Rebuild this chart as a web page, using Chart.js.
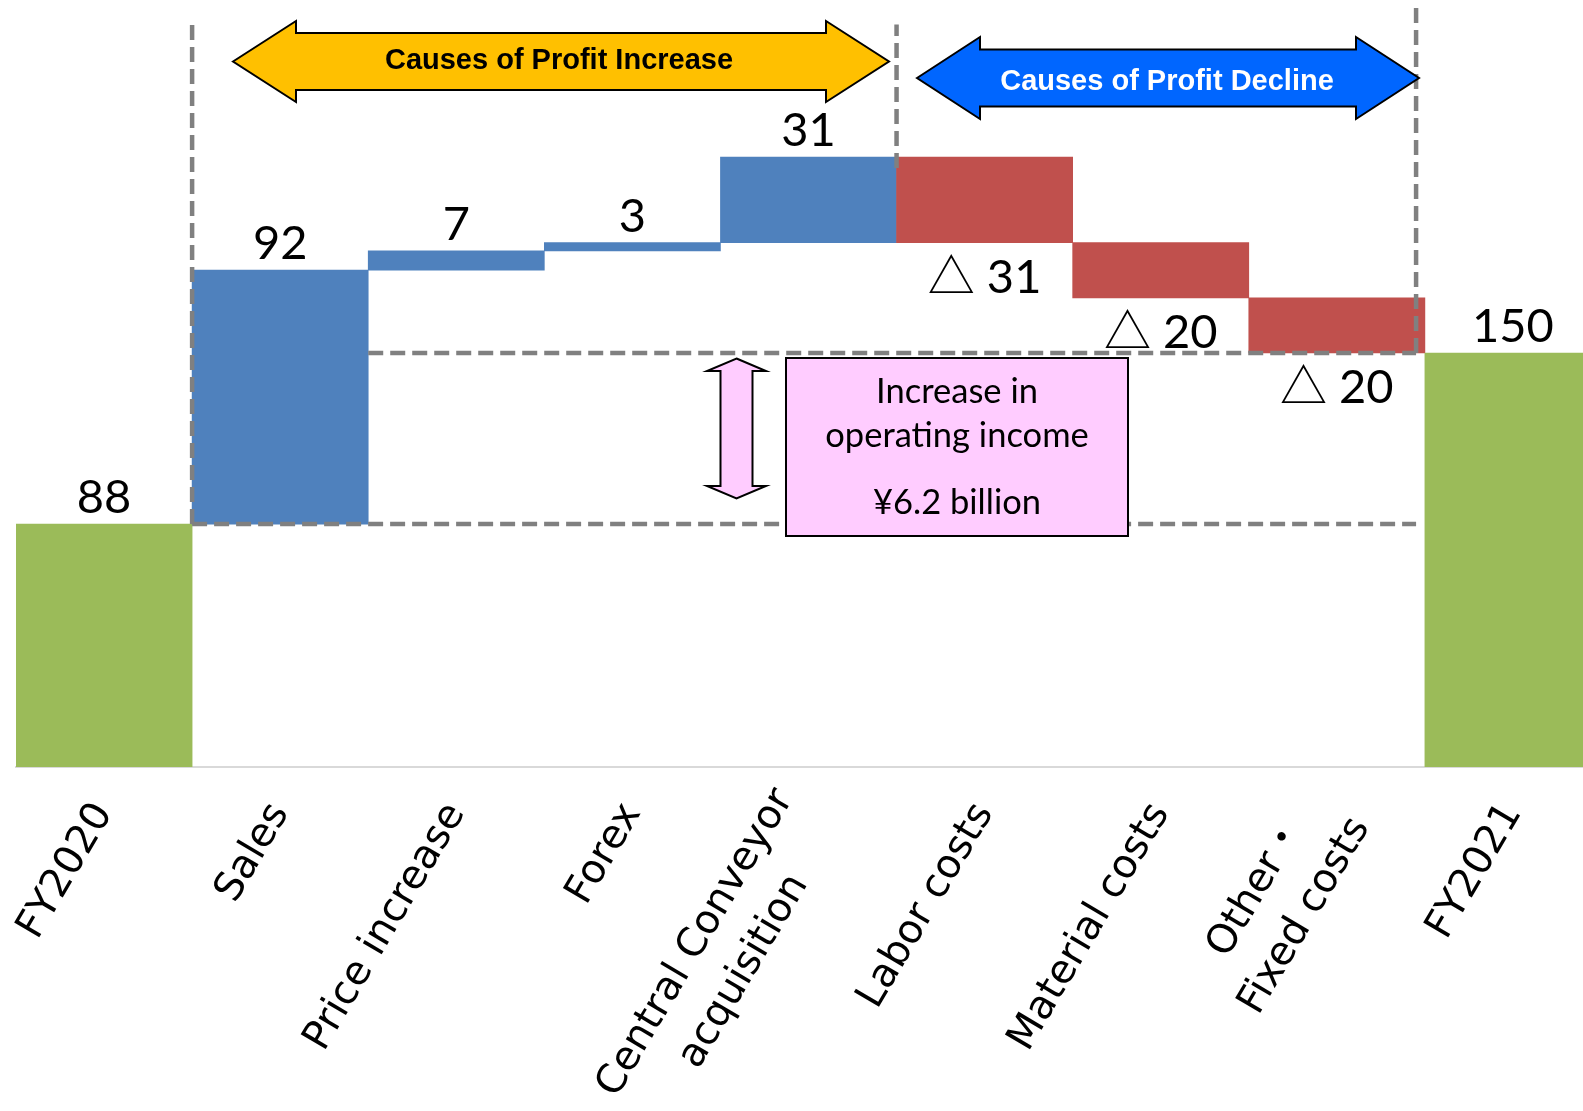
<!DOCTYPE html>
<html>
<head>
<meta charset="utf-8">
<title>Operating income bridge FY2020 to FY2021</title>
<script src="https://cdn.jsdelivr.net/npm/chart.js@4.4.1/dist/chart.umd.min.js"></script>
<style>
  html, body { margin: 0; padding: 0; background: #fff; overflow: hidden; }
  canvas { display: block; }
</style>
</head>
<body>
<canvas id="bridgeChart" width="1601" height="1111"></canvas>
<script>
// bridge steps, in ¥100 million
const categories = [
  "FY2020",
  "Sales",
  "Price increase",
  "Forex",
  ["Central Conveyor", "acquisition"],
  "Labor costs",
  "Material costs",
  ["Other・", "Fixed costs"],
  "FY2021",
];
const changes = [88, 92, 7, 3, 31, -31, -20, -20, 150];
const isTotal = [true, false, false, false, false, false, false, false, true];

const GREEN = "#9bbb59";
const BLUE = "#4f81bd";
const RED = "#c0504d";
const GUIDE = "#808080";

// floating [start, end] ranges for the waterfall
let running = 0;
const ranges = changes.map((v, i) => {
  if (isTotal[i]) {
    running = v;
    return [0, v];
  }
  const start = running;
  running += v;
  return [start, running];
});
const barColors = changes.map((v, i) => (isTotal[i] ? GREEN : v >= 0 ? BLUE : RED));
const valueText = (v) => (v < 0 ? "△ " + Math.abs(v) : String(v));

// dashed guide lines, x in category units, y in values
const guides = [
  { x1: 0.5, y1: 88, x2: 0.5, y2: 269 },
  { x1: 4.5, y1: 217, x2: 4.5, y2: 269 },
  { x1: 7.45, y1: 150, x2: 7.45, y2: 277 },
  { x1: 1.5, y1: 150, x2: 7.45, y2: 150 },
  { x1: 0.5, y1: 88, x2: 7.45, y2: 88 },
];

// double arrow along +x from 0 to len
const doubleArrow = (ctx, len, head, headHalf, shaftHalf, fill) => {
  ctx.beginPath();
  ctx.moveTo(0, 0);
  ctx.lineTo(head, -headHalf);
  ctx.lineTo(head, -shaftHalf);
  ctx.lineTo(len - head, -shaftHalf);
  ctx.lineTo(len - head, -headHalf);
  ctx.lineTo(len, 0);
  ctx.lineTo(len - head, headHalf);
  ctx.lineTo(len - head, shaftHalf);
  ctx.lineTo(head, shaftHalf);
  ctx.lineTo(head, headHalf);
  ctx.closePath();
  ctx.fillStyle = fill;
  ctx.fill();
  ctx.lineJoin = "miter";
  ctx.lineWidth = 2;
  ctx.strokeStyle = "#000";
  ctx.stroke();
};

const overlayPlugin = {
  id: "overlay",
  afterDraw(chart) {
    const ctx = chart.ctx;
    const x = chart.scales.x;
    const y = chart.scales.y;

    // dashed guides
    ctx.save();
    ctx.strokeStyle = GUIDE;
    ctx.lineWidth = 4.5;
    ctx.setLineDash([15, 7]);
    guides.forEach((g) => {
      ctx.beginPath();
      ctx.moveTo(x.getPixelForValue(g.x1), y.getPixelForValue(g.y1));
      ctx.lineTo(x.getPixelForValue(g.x2), y.getPixelForValue(g.y2));
      ctx.stroke();
    });
    ctx.restore();

    // header arrows
    ctx.save();
    ctx.translate(233, 61.5);
    doubleArrow(ctx, 656, 63, 40.5, 28.5, "#ffc000");
    ctx.restore();
    ctx.save();
    ctx.translate(917, 78);
    doubleArrow(ctx, 502, 63, 41, 28.5, "#0066ff");
    ctx.restore();

    ctx.save();
    ctx.font = "bold 29px 'Liberation Sans', Arial, sans-serif";
    ctx.textAlign = "center";
    ctx.textBaseline = "alphabetic";
    ctx.fillStyle = "#000";
    ctx.fillText("Causes of Profit Increase", 559, 69);
    ctx.fillStyle = "#fff";
    ctx.fillText("Causes of Profit Decline", 1167, 90);
    ctx.restore();

    // increase callout
    ctx.save();
    ctx.translate(736.5, 358.5);
    ctx.rotate(Math.PI / 2);
    doubleArrow(ctx, 140, 12.5, 29.5, 16, "#ffccff");
    ctx.restore();

    ctx.save();
    ctx.fillStyle = "#ffccff";
    ctx.fillRect(786, 358, 342, 178);
    ctx.lineWidth = 2;
    ctx.strokeStyle = "#000";
    ctx.strokeRect(786, 358, 342, 178);
    ctx.fillStyle = "#000";
    ctx.font = "34.5px Lato, sans-serif";
    ctx.textAlign = "center";
    ctx.fillText("Increase in", 957, 403);
    ctx.fillText("operating income", 957, 447);
    ctx.fillText("¥6.2 billion", 957, 514);
    ctx.restore();

    // value labels above gains, below losses
    ctx.save();
    ctx.font = "47px Lato, 'Noto Sans CJK JP', sans-serif";
    ctx.fillStyle = "#000";
    ctx.textAlign = "center";
    ctx.textBaseline = "alphabetic";
    changes.forEach((v, i) => {
      const [a, b] = ranges[i];
      const cx = x.getPixelForValue(i);
      if (v >= 0) {
        ctx.fillText(valueText(v), cx, y.getPixelForValue(Math.max(a, b)) - 11);
      } else {
        ctx.fillText(valueText(v), cx, y.getPixelForValue(Math.min(a, b)) + 50);
      }
    });
    ctx.restore();

    // slanted category labels
    ctx.save();
    ctx.font = "40px 'DejaVu Sans', 'Noto Sans CJK JP', sans-serif";
    ctx.fillStyle = "#000";
    ctx.textAlign = "right";
    ctx.textBaseline = "middle";
    const lineHeight = 56;
    categories.forEach((label, i) => {
      const lines = Array.isArray(label) ? label : [label];
      const widths = lines.map((l) => ctx.measureText(l).width);
      const maxW = Math.max(...widths);
      ctx.save();
      ctx.translate(x.getPixelForValue(i), x.bottom + 40);
      ctx.rotate((-59.5 * Math.PI) / 180);
      lines.forEach((line, j) => {
        const dy = (j - (lines.length - 1) / 2) * lineHeight;
        ctx.fillText(line, -(maxW - widths[j]) / 2, dy);
      });
      ctx.restore();
    });
    ctx.restore();
  },
};

new Chart(document.getElementById("bridgeChart"), {
  type: "bar",
  data: {
    labels: categories,
    datasets: [
      {
        data: ranges,
        backgroundColor: barColors,
        borderWidth: 0,
        barPercentage: 1,
        categoryPercentage: 1,
      },
    ],
  },
  options: {
    responsive: false,
    animation: false,
    layout: { padding: { left: 16, right: 0, top: 8, bottom: 344 } },
    plugins: {
      legend: { display: false },
      tooltip: { enabled: false },
    },
    scales: {
      x: {
        grid: { display: false, drawTicks: false },
        ticks: { display: false },
        border: { color: "#d9d9d9", width: 2 },
      },
      y: { display: false, min: 0, max: 275 },
    },
  },
  plugins: [overlayPlugin],
});
</script>
</body>
</html>
